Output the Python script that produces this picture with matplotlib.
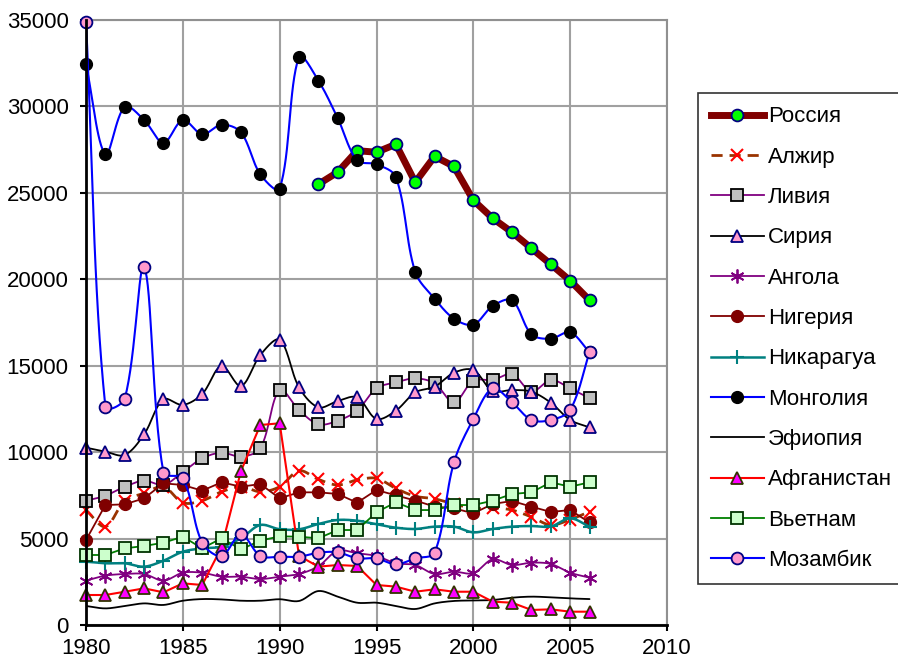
import numpy as np
import matplotlib
matplotlib.use("Agg")
import matplotlib.pyplot as plt
from matplotlib.lines import Line2D

plt.rcParams['font.family'] = ['Liberation Sans', 'DejaVu Sans']

years_full = list(range(1980, 2007))
years_russia = list(range(1992, 2007))

russia = [25500, 26200, 27440, 27350, 27810, 25610, 27110, 26530, 24570,
          23530, 22720, 21790, 20870, 19920, 18790]
algeria = [6650, 5690, 7190, 7620, 8000, 7075, 7190, 7710, 8000, 7710, 8000,
           8925, 8425, 8100, 8390, 8485, 7900, 7450, 7300, 7000, 6750,
           6780, 6650, 6250, 5785, 6100, 6555]
libya = [7190, 7480, 8000, 8350, 8100, 8850, 9640, 9970, 9740, 10220, 13600,
         12440, 11610, 11820, 12400, 13690, 14040, 14270, 13980, 12880, 14135,
         14175, 14520, 13495, 14175, 13690, 13115]
syria = [10260, 10030, 9835, 11030, 13055, 12730, 13365, 14985, 13825, 15620,
         16500, 13750, 12590, 12960, 13170, 11920, 12400, 13460, 13785, 14595,
         14750, 13535, 13595, 13495, 12860, 11860, 11435]
angola = [2565, 2855, 2950, 2950, 2565, 3025, 3025, 2795, 2795, 2660, 2795,
          2950, 3400, 4300, 4150, 3990, 3570, 3470, 2950, 3085, 3000,
          3800, 3470, 3605, 3530, 3025, 2740]
nigeria = [4915, 6940, 6980, 7330, 8195, 8100, 7770, 8255, 8000, 8155, 7330,
           7675, 7675, 7580, 7075, 7810, 7500, 7200, 6850, 6750, 6460,
           7000, 7175, 6845, 6540, 6650, 5930]
nicaragua = [3665, 3570, 3570, 3375, 3720, 4240, 4435, 4530, 5015, 5785, 5540,
             5535, 5845, 6075, 6035, 5825, 5630, 5555, 5690, 5690, 5360,
             5555, 5690, 5725, 5700, 6170, 5690]
mongolia = [32435, 27230, 29985, 29215, 27900, 29215, 28385, 28945, 28500,
            26075, 25240, 32880, 31490, 29310, 26880, 26650, 25915, 20420,
            18880, 17720, 17375, 18455, 18785, 16815, 16565, 16930, 15775]
ethiopia = [1100, 960, 1100, 1250, 1160, 1405, 1500, 1480, 1405, 1405, 1490,
            1390, 1965, 1640, 1290, 1290, 1100, 925, 1250, 1390, 1420,
            1445, 1580, 1640, 1600, 1540, 1500]
afghanistan = [1735, 1735, 1925, 2120, 1890, 2410, 2315, 4500, 8900, 11570,
               11670, 4000, 3375, 3470, 3415, 2315, 2220, 1925, 2065, 1925,
               1925, 1350, 1290, 870, 905, 770, 770]
vietnam = [4050, 4050, 4435, 4570, 4760, 5110, 4435, 5015, 4375, 4880, 5130,
           5110, 5015, 5495, 5495, 6520, 7100, 6650, 6650, 6940, 6940,
           7190, 7580, 7675, 8255, 8000, 8255]
mozambique = [34870, 12630, 13095, 20730, 8810, 8485, 4760, 3990, 5245, 3990,
              3950, 3950, 4185, 4205, 3855, 3855, 3510, 3855, 4185, 9410,
              11920, 13690, 12880, 11860, 11860, 12440, 15775]

x_ticks = [1980, 1985, 1990, 1995, 2000, 2005, 2010]
y_ticks = [0, 5000, 10000, 15000, 20000, 25000, 30000, 35000]

# screen scale (pixels per data unit) used only for curve smoothing
SX = 581 / 30.0
SY = 605 / 35000.0


def smooth(x, y, n=16, k=1 / 3.0):
    x = np.asarray(x, float) * SX
    y = np.asarray(y, float) * SY
    P = np.column_stack([x, y])
    m = len(P)
    if m < 3:
        return x / SX, y / SY
    d = np.linalg.norm(np.diff(P, axis=0), axis=1)
    T = np.zeros_like(P)
    for i in range(m):
        if i == 0:
            T[i] = P[1] - P[0]
        elif i == m - 1:
            T[i] = P[-1] - P[-2]
        else:
            T[i] = (P[i + 1] - P[i - 1])
    out = [P[0]]
    t = np.linspace(0, 1, n + 1)[1:]
    for i in range(m - 1):
        p0, p3 = P[i], P[i + 1]
        if i == 0:
            c1 = p0 + (p3 - p0) * k
        else:
            c1 = p0 + T[i] * k * d[i] / (d[i - 1] + d[i])
        if i + 1 == m - 1:
            c2 = p3 - (p3 - p0) * k
        else:
            c2 = p3 - T[i + 1] * k * d[i] / (d[i] + d[i + 1])
        for tt in t:
            b = ((1 - tt) ** 3) * p0 + 3 * ((1 - tt) ** 2) * tt * c1 + \
                3 * (1 - tt) * tt ** 2 * c2 + tt ** 3 * p3
            out.append(b)
    out = np.array(out)
    return out[:, 0] / SX, out[:, 1] / SY


series = [
    ("Россия", years_russia, russia, dict(color='#800000', lw=5, ls='-'),
     dict(marker='o', ms=8.5, mfc='#00FF00', mec='#000080', mew=1.3), False),
    ("Алжир", years_full, algeria, dict(color='#993300', lw=2, ls=(0, (4, 2.5))),
     dict(marker='x', ms=9, mfc='none', mec='#FF0000', mew=1.5), True),
    ("Ливия", years_full, libya, dict(color='#800080', lw=1.3, ls='-'),
     dict(marker='s', ms=8.5, mfc='#C0C0C0', mec='#000000', mew=1.3), True),
    ("Сирия", years_full, syria, dict(color='#000000', lw=1.3, ls='-'),
     dict(marker='^', ms=9, mfc='#FF99CC', mec='#000080', mew=1.3), True),
    ("Ангола", years_full, angola, dict(color='#800080', lw=1.3, ls='-'),
     dict(marker=(6, 2, 0), ms=10, mfc='none', mec='#800080', mew=1.3), True),
    ("Нигерия", years_full, nigeria, dict(color='#800000', lw=1.3, ls='-'),
     dict(marker='o', ms=8.5, mfc='#800000', mec='#800000', mew=1.0), False),
    ("Никарагуа", years_full, nicaragua, dict(color='#008080', lw=1.8, ls='-'),
     dict(marker='+', ms=10, mfc='none', mec='#008080', mew=1.5), True),
    ("Монголия", years_full, mongolia, dict(color='#0000FF', lw=1.5, ls='-'),
     dict(marker='o', ms=8.5, mfc='#000000', mec='#000000', mew=1.0), True),
    ("Эфиопия", years_full, ethiopia, dict(color='#000000', lw=1.3, ls='-'),
     dict(marker='None'), True),
    ("Афганистан", years_full, afghanistan, dict(color='#FF0000', lw=1.5, ls='-'),
     dict(marker='^', ms=9, mfc='#FF00FF', mec='#333300', mew=1.3), False),
    ("Вьетнам", years_full, vietnam, dict(color='#008000', lw=1.3, ls='-'),
     dict(marker='s', ms=8.5, mfc='#CCFFCC', mec='#003300', mew=1.3), False),
    ("Мозамбик", years_full, mozambique, dict(color='#0000FF', lw=1.5, ls='-'),
     dict(marker='o', ms=8.5, mfc='#FF99CC', mec='#000080', mew=1.3), True),
]

fig = plt.figure(figsize=(8.98, 6.59), dpi=100)
ax = fig.add_axes([86 / 898, 1 - 625 / 659, (667 - 86) / 898, (625 - 20) / 659])

handles = []
for i, (name, xs, ys, lkw, mkw, sm) in enumerate(series):
    z = 3 + i * 0.1
    if sm:
        sx, sy = smooth(xs, ys)
    else:
        sx, sy = np.asarray(xs, float), np.asarray(ys, float)
    ax.plot(sx, sy, color=lkw['color'], lw=lkw['lw'], ls=lkw['ls'], zorder=z,
            solid_capstyle='round')
    if mkw.get('marker') != 'None':
        ax.plot(xs, ys, ls='none', zorder=z + 0.05, clip_on=False, **mkw)
    h = Line2D([], [], color=lkw['color'], lw=lkw['lw'], ls=lkw['ls'], **mkw)
    handles.append(h)

ax.set_xlim(1980, 2010)
ax.set_ylim(0, 35000)
ax.set_xticks(x_ticks)
ax.set_yticks(y_ticks)
ax.set_xticklabels([str(v) for v in x_ticks])
ax.set_yticklabels([str(v) for v in y_ticks])
ax.grid(True, color='#A0A0A0', lw=1.5, zorder=0)
ax.set_axisbelow(True)
for s in ['top', 'right']:
    ax.spines[s].set_color('#909090')
    ax.spines[s].set_linewidth(1.5)
for s in ['left', 'bottom']:
    ax.spines[s].set_color('#000000')
    ax.spines[s].set_linewidth(2)
    ax.spines[s].set_zorder(10)
ax.tick_params(axis='both', which='major', labelsize=16, length=4.5, width=1.5,
               direction='out', color='#000000')
ax.tick_params(axis='x', pad=5)
ax.tick_params(axis='y', pad=8)

leg = fig.legend(handles, [s[0] for s in series], loc='upper left',
                 bbox_to_anchor=(698 / 898, 1 - 93 / 659), fontsize=16,
                 frameon=True, fancybox=False, edgecolor='#000000',
                 handlelength=2.35, handletextpad=0.2, labelspacing=0.87,
                 borderpad=0.6, borderaxespad=0.0, numpoints=1)
leg.get_frame().set_linewidth(1.2)

fig.savefig('out.png', dpi=100)
